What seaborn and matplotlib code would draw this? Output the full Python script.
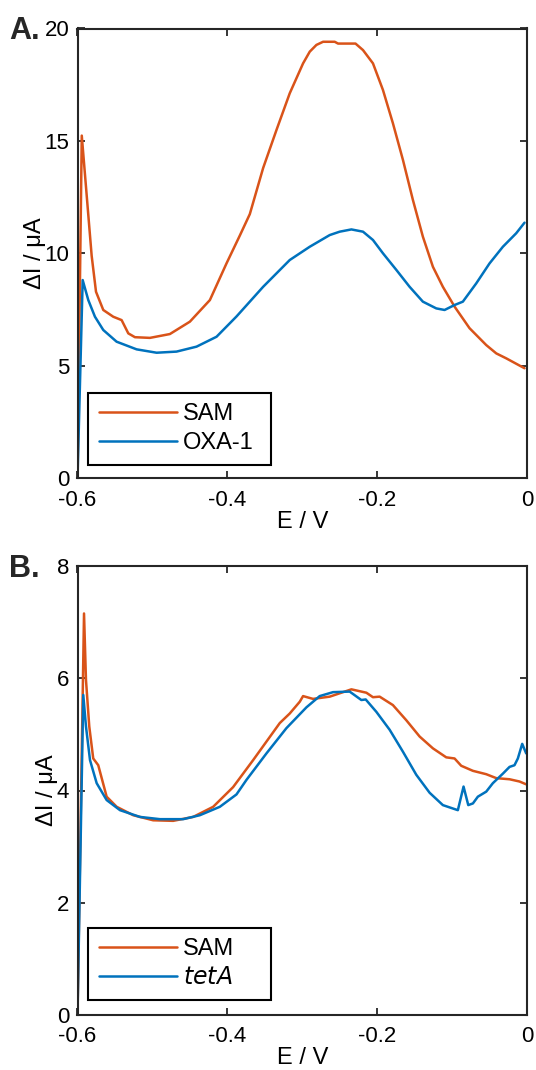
import numpy as np
import pandas as pd
import matplotlib
matplotlib.use("Agg")
import matplotlib.pyplot as plt
import seaborn as sns

# ---------------- data ----------------
# Panel A
E_A_SAM = [-0.600, -0.5943, -0.5811, -0.5753, -0.5656, -0.5523, -0.5411, -0.5322, -0.5233,
           -0.5033, -0.4767, -0.450, -0.4233, -0.4011, -0.3833, -0.370, -0.3522, -0.3344,
           -0.3167, -0.2989, -0.290, -0.2811, -0.2722, -0.2633, -0.2567, -0.2522, -0.240,
           -0.2289, -0.2189, -0.2056, -0.1923, -0.179, -0.1656, -0.1523, -0.139, -0.1256,
           -0.1123, -0.0967, -0.0767, -0.0544, -0.041, -0.0277, -0.0033]
I_A_SAM = [0.0, 15.24, 9.9, 8.3, 7.49, 7.19, 7.04, 6.45, 6.28,
           6.25, 6.42, 6.97, 7.93, 9.56, 10.8, 11.75, 13.8, 15.49,
           17.12, 18.45, 18.97, 19.27, 19.41, 19.41, 19.41, 19.33, 19.33,
           19.33, 19.04, 18.45, 17.27, 15.79, 14.16, 12.38, 10.75, 9.41,
           8.52, 7.64, 6.68, 5.93, 5.56, 5.34, 4.9]

E_A_OXA = [-0.600, -0.5931, -0.5856, -0.5767, -0.5656, -0.5478, -0.5211, -0.4944, -0.4678,
           -0.4411, -0.4144, -0.3878, -0.3522, -0.3167, -0.290, -0.2633, -0.250, -0.2344,
           -0.2189, -0.2056, -0.1923, -0.1744, -0.1567, -0.139, -0.1211, -0.110, -0.0967,
           -0.0856, -0.0678, -0.050, -0.0322, -0.0144, -0.0033]
I_A_OXA = [0.0, 8.82, 7.93, 7.19, 6.6, 6.08, 5.74, 5.59, 5.64,
           5.86, 6.3, 7.2, 8.52, 9.71, 10.3, 10.82, 10.97, 11.07,
           10.97, 10.6, 10.01, 9.27, 8.52, 7.86, 7.56, 7.49, 7.71,
           7.86, 8.67, 9.56, 10.3, 10.9, 11.37]

# Panel B
E_B_SAM = [-0.600, -0.5913, -0.5887, -0.5843, -0.579, -0.5723, -0.5611, -0.5477, -0.5256,
           -0.499, -0.4723, -0.4456, -0.4189, -0.3923, -0.3656, -0.330, -0.3167, -0.3033,
           -0.2989, -0.2856, -0.2633, -0.2344, -0.2144, -0.2056, -0.1967, -0.179, -0.1611,
           -0.1433, -0.1256, -0.1078, -0.0967, -0.0878, -0.0722, -0.0544, -0.041, -0.0233,
           -0.010, -0.0011]
I_B_SAM = [0.0, 7.15, 5.97, 5.14, 4.57, 4.45, 3.89, 3.71, 3.56,
           3.47, 3.46, 3.53, 3.71, 4.06, 4.54, 5.2, 5.37, 5.58,
           5.68, 5.63, 5.67, 5.8, 5.74, 5.66, 5.67, 5.52, 5.25,
           4.96, 4.75, 4.59, 4.57, 4.44, 4.35, 4.29, 4.22, 4.2,
           4.16, 4.11]

E_B_TET = [-0.600, -0.5923, -0.5887, -0.5833, -0.5744, -0.5611, -0.5433, -0.5167, -0.490,
           -0.4589, -0.4367, -0.410, -0.3878, -0.3744, -0.3478, -0.3211, -0.2944, -0.2767,
           -0.2589, -0.2367, -0.2211, -0.2153, -0.2011, -0.1833, -0.1656, -0.1478, -0.130,
           -0.1123, -0.099, -0.0923, -0.0847, -0.0784, -0.0722, -0.0656, -0.0544, -0.0456,
           -0.0322, -0.0233, -0.0167, -0.0122, -0.0064, -0.0011]
I_B_TET = [0.0, 5.7, 5.14, 4.54, 4.13, 3.83, 3.65, 3.53, 3.49,
           3.49, 3.56, 3.71, 3.93, 4.19, 4.66, 5.11, 5.48, 5.68,
           5.75, 5.76, 5.61, 5.62, 5.4, 5.08, 4.69, 4.28, 3.96,
           3.74, 3.68, 3.65, 4.07, 3.74, 3.77, 3.89, 3.98, 4.13,
           4.3, 4.42, 4.45, 4.57, 4.83, 4.66]

X_TICKS = [-0.6, -0.4, -0.2, 0]
X_TICKLABELS = ["-0.6", "-0.4", "-0.2", "0"]
Y_TICKS_A = [0, 5, 10, 15, 20]
Y_TICKS_B = [0, 2, 4, 6, 8]

C_ORANGE = "#D95319"
C_BLUE = "#0072BD"

# ---------------- style ----------------
sns.set_theme(style="white")
plt.rcParams["font.family"] = ["Liberation Sans", "DejaVu Sans"]
plt.rcParams["axes.unicode_minus"] = False
plt.rcParams["mathtext.default"] = "regular"

W, H = 536, 1070
fig = plt.figure(figsize=(W / 100, H / 100), dpi=100)

def px_axes(left, top, right, bottom):
    return fig.add_axes([left / W, 1 - bottom / H, (right - left) / W, (bottom - top) / H])

axA = px_axes(77.5, 28.5, 527, 478.5)
axB = px_axes(77.5, 565.7, 527, 1015.3)

FS = 17
FS_TICK = 16

def style_axes(ax, yticks, ylim):
    ax.set_xlim(-0.6, 0)
    ax.set_ylim(*ylim)
    ax.set_xticks(X_TICKS)
    ax.set_xticklabels(X_TICKLABELS)
    ax.set_yticks(yticks)
    ax.set_yticklabels([str(t) for t in yticks])
    ax.tick_params(direction="in", length=5, width=1.3, color="#262626",
                   labelsize=FS_TICK, labelcolor="black", top=True, right=True,
                   bottom=True, left=True)
    ax.tick_params(axis="x", pad=8)
    ax.tick_params(axis="y", pad=6)
    for s in ax.spines.values():
        s.set_visible(True)
        s.set_color("#262626")
        s.set_linewidth(1.5)
    ax.set_xlabel("E / V", fontsize=FS, labelpad=0, color="black")
    ax.set_ylabel("ΔI / μA", fontsize=FS, labelpad=-1, color="black")
    ax.grid(False)

dfA1 = pd.DataFrame({"E": E_A_SAM, "I": I_A_SAM})
dfA2 = pd.DataFrame({"E": E_A_OXA, "I": I_A_OXA})
sns.lineplot(data=dfA1, x="E", y="I", ax=axA, color=C_ORANGE, lw=1.8,
             sort=False, estimator=None, label="SAM")
sns.lineplot(data=dfA2, x="E", y="I", ax=axA, color=C_BLUE, lw=1.8,
             sort=False, estimator=None, label="OXA-1")
style_axes(axA, Y_TICKS_A, (0, 20))

dfB1 = pd.DataFrame({"E": E_B_SAM, "I": I_B_SAM})
dfB2 = pd.DataFrame({"E": E_B_TET, "I": I_B_TET})
sns.lineplot(data=dfB1, x="E", y="I", ax=axB, color=C_ORANGE, lw=1.8,
             sort=False, estimator=None, label="SAM")
sns.lineplot(data=dfB2, x="E", y="I", ax=axB, color=C_BLUE, lw=1.8,
             sort=False, estimator=None, label="$\\it{tetA}$")
style_axes(axB, Y_TICKS_B, (0, 8))

def make_legend(ax, left_px, bottom_px, width_px, height_px, ax_left, ax_top, ax_w, ax_h, bpad):
    x0 = (left_px - ax_left) / ax_w
    y0 = 1 - (bottom_px - ax_top) / ax_h
    leg = ax.legend(loc="lower left", bbox_to_anchor=(x0, y0, width_px / ax_w, height_px / ax_h),
                    mode="expand", fontsize=FS, frameon=True, fancybox=False,
                    edgecolor="black", framealpha=1, borderpad=bpad, borderaxespad=0,
                    handlelength=3.3, handletextpad=0.25, labelspacing=0.3)
    leg.get_frame().set_linewidth(1.5)
    for t in leg.get_texts():
        t.set_color("black")
    return leg

make_legend(axA, 88.3, 465, 183, 73, 77.5, 28.5, 449.5, 450, 0.45)
make_legend(axB, 88.3, 1000, 183, 74, 77.5, 565.7, 449.5, 449.6, 0.45)

fig.text(9 / W, 1 - 39 / H, "A.", fontsize=22, fontweight="bold", va="baseline", ha="left")
fig.text(9 / W, 1 - 577 / H, "B.", fontsize=22, fontweight="bold", va="baseline", ha="left")

fig.savefig("out.png", dpi=100)
